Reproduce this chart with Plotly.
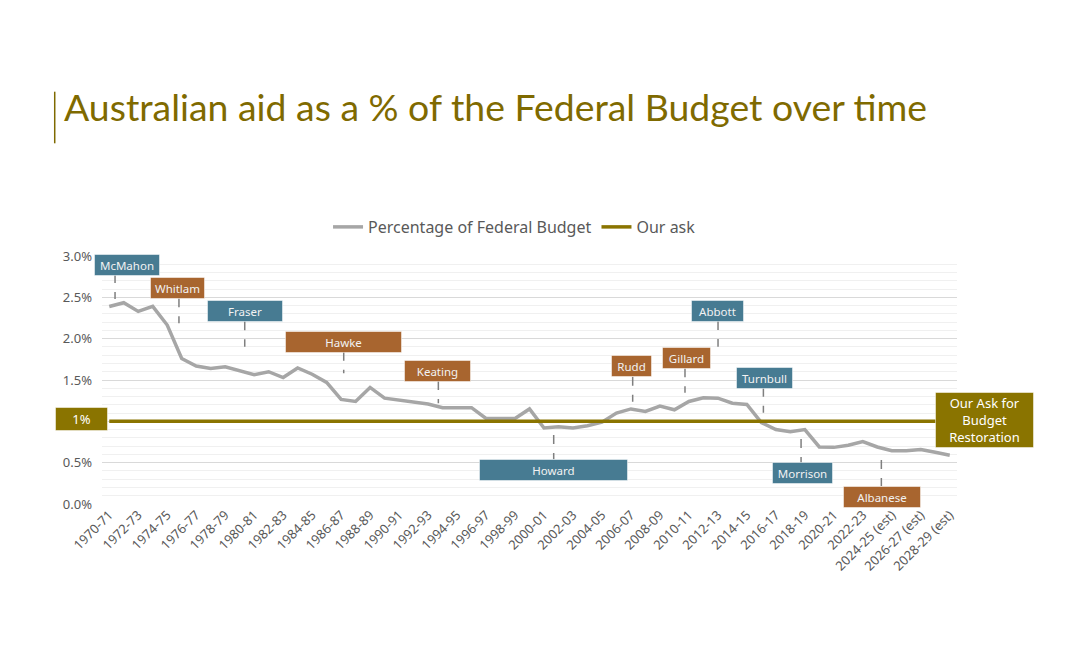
import plotly.graph_objects as go

# ---------------- data ----------------
years = list(range(1970, 2029))
categories = [f"{y}-{(y + 1) % 100:02d}" + (" (est)" if y >= 2024 else "") for y in years]

aid_pct = [2.39, 2.435, 2.33, 2.39, 2.165, 1.76, 1.67, 1.64, 1.66, 1.61,
           1.565, 1.60, 1.53, 1.645, 1.57, 1.47, 1.265, 1.24, 1.41, 1.28,
           1.26, 1.24, 1.21, 1.165, 1.165, 1.165, 1.035, 1.035, 1.035, 1.15,
           0.92, 0.935, 0.92, 0.947, 0.99, 1.10, 1.15, 1.12, 1.185, 1.14,
           1.24, 1.285, 1.28, 1.22, 1.205, 0.985, 0.90, 0.875, 0.90, 0.69,
           0.685, 0.71, 0.755, 0.69, 0.645, 0.645, 0.66, 0.625, 0.59]
ask_pct = [1.0] * len(categories)

tick_labels = categories[::2]
y_tickvals = [0, 0.5, 1.0, 1.5, 2.0, 2.5, 3.0]
y_ticktext = ["0.0%", "0.5%", "", "1.5%", "2.0%", "2.5%", "3.0%"]  # 1.0 shown by the "1%" box

pm_names = ["McMahon", "Whitlam", "Fraser", "Hawke", "Keating", "Howard",
            "Rudd", "Gillard", "Abbott", "Turnbull", "Morrison", "Albanese"]
pm_party = ["lib", "lab", "lib", "lab", "lab", "lib",
            "lab", "lab", "lib", "lib", "lib", "lab"]

# ---------------- label layout (positions / sizes / styles) ----------------
# box centre (category index, value), box width px, connector x, connector y0, y1
pm_layout = [
    (1.24, 2.895, 66, 0.40, 2.782, 2.48),
    (4.72, 2.61, 55, 4.81, 2.488, 2.186),
    (9.39, 2.332, 76, 9.35, 2.21, 1.903),
    (16.17, 1.963, 117, 16.18, 1.842, 1.581),
    (22.62, 1.613, 67, 22.71, 1.488, 1.218),
    (30.69, 0.415, 149, 30.67, 0.835, 0.541),
    (36.06, 1.667, 41, 36.12, 1.54, 1.237),
    (39.84, 1.762, 49, 39.73, 1.641, 1.346),
    (41.98, 2.335, 53, 42.01, 2.214, 1.903),
    (45.23, 1.53, 57, 45.14, 1.407, 1.104),
    (47.81, 0.371, 61, 47.74, 0.786, 0.50),
    (53.35, 0.088, 78, 53.28, 0.532, 0.218),
]

TEAL = "#477B92"
BROWN = "#A8652F"
OLIVE = "#8A7400"
TITLE_COL = "#7F6A00"
GREY_TXT = "#595959"
FONT = "Noto Sans"

fig = go.Figure()
fig.add_trace(go.Scatter(
    x=categories, y=aid_pct, mode="lines", name="Percentage of Federal Budget",
    line=dict(color="#A6A6A6", width=3.5)))
fig.add_trace(go.Scatter(
    x=categories, y=ask_pct, mode="lines", name="Our ask",
    line=dict(color=OLIVE, width=3.5)))

annotations = []
shapes = []
PAD = 2
for name, party, (cx, cy, w, lx, ly0, ly1) in zip(pm_names, pm_party, pm_layout):
    col = TEAL if party == "lib" else BROWN
    annotations.append(dict(
        x=cx, y=cy, xref="x", yref="y", text=name, showarrow=False,
        bgcolor=col, bordercolor="rgba(255,255,255,0.5)", borderwidth=1,
        borderpad=PAD, width=w - 2 * PAD - 2, height=16,
        font=dict(family=FONT, size=11.5, color="#F2F2F2"),
        xanchor="center", yanchor="middle"))
    shapes.append(dict(type="line", xref="x", yref="y", x0=lx, x1=lx, y0=ly0, y1=ly1,
                       line=dict(color="#7F7F7F", width=1.5, dash="dash"), layer="above"))

# 1% marker box (paper coords: sits left of the plot area)
annotations.append(dict(
    x=-0.0234, y=0.3427, xref="paper", yref="paper", text="1%", showarrow=False,
    bgcolor=OLIVE, bordercolor="rgba(255,255,255,0.5)", borderwidth=1,
    borderpad=3, width=45, height=16,
    font=dict(family=FONT, size=13, color="#FFFFFF"),
    xanchor="center", yanchor="middle"))
# Our ask box
annotations.append(dict(
    x=1.0316, y=0.3407, xref="paper", yref="paper",
    text="Our Ask for<br>Budget<br>Restoration", showarrow=False,
    bgcolor=OLIVE, bordercolor="rgba(255,255,255,0.5)", borderwidth=1,
    borderpad=3, width=91, height=48,
    font=dict(family=FONT, size=13, color="#FFFFFF"),
    xanchor="center", yanchor="middle"))

# title accent bar
shapes.append(dict(type="line", xref="paper", yref="paper",
                   x0=-0.0553, x1=-0.0553, y0=1.4544, y1=1.6625,
                   line=dict(color=TITLE_COL, width=1.5)))

fig.update_layout(
    width=1080, height=669,
    paper_bgcolor="white", plot_bgcolor="white",
    margin=dict(l=102, r=123, t=256, b=165),
    title=dict(text="Australian aid as a % of the Federal Budget over time",
               x=64 / 1080, xanchor="left", xref="container",
               y=1 - 108 / 669, yanchor="middle", yref="container",
               font=dict(family="Lato", size=37.4, color=TITLE_COL)),
    legend=dict(orientation="h", x=0.4825, xanchor="center", y=1.117, yanchor="middle",
                font=dict(family=FONT, size=16, color=GREY_TXT),
                itemwidth=30, bgcolor="rgba(0,0,0,0)"),
    annotations=annotations, shapes=shapes,
    showlegend=True,
)
fig.update_xaxes(
    type="category", range=[-0.5, len(categories) - 0.5],
    tickmode="array", tickvals=tick_labels, ticktext=tick_labels,
    tickangle=-45, tickfont=dict(family=FONT, size=13, color=GREY_TXT),
    showgrid=False, showline=False, ticks="", zeroline=False)
fig.update_yaxes(
    range=[0, 3.0], tickmode="array", tickvals=y_tickvals, ticktext=y_ticktext,
    tickfont=dict(family=FONT, size=13, color=GREY_TXT), ticklabelstandoff=9,
    showgrid=True, gridcolor="#D9D9D9", gridwidth=1, zeroline=False,
    minor=dict(tickmode="linear", tick0=0, dtick=0.1, showgrid=True,
               gridcolor="#F0F0F0", gridwidth=1),
    ticks="", showline=False)

fig.write_html("out.html")
